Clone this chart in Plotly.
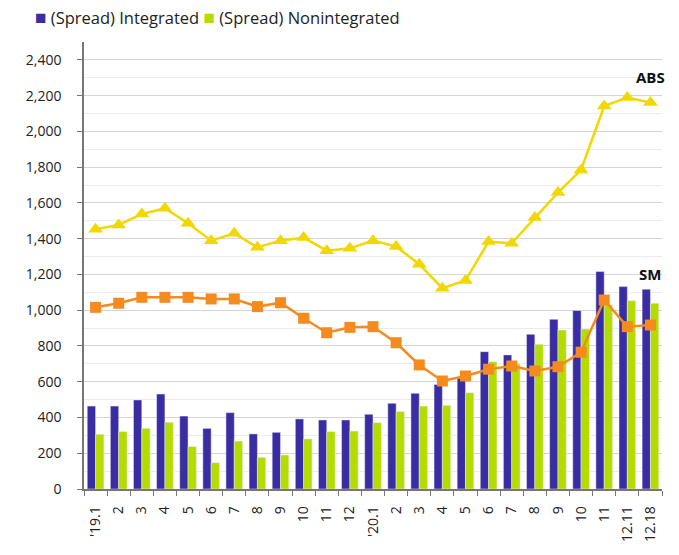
import plotly.graph_objects as go

months = ["'19.1", "2", "3", "4", "5", "6", "7", "8", "9", "10", "11", "12",
          "'20.1", "2", "3", "4", "5", "6", "7", "8", "9", "10", "11", "12.11", "12.18"]
# unique keys so repeated month labels stay separate categories
cats = [f"{i}_{m}" for i, m in enumerate(months)]

integrated = [464, 464, 498, 531, 408, 339, 427, 308, 317, 392, 386, 386,
              418, 479, 535, 585, 620, 768, 750, 865, 949, 998, 1216, 1132, 1117]
nonintegrated = [306, 321, 339, 373, 237, 147, 268, 177, 190, 280, 321, 324,
                 371, 433, 464, 468, 539, 712, 700, 809, 889, 895, 1030, 1053, 1039]
abs_line = [1453, 1477, 1538, 1570, 1486, 1389, 1430, 1352, 1389, 1406, 1333, 1346,
            1389, 1356, 1257, 1123, 1166, 1384, 1374, 1518, 1658, 1784, 2142, 2189, 2161]
sm_line = [1016, 1039, 1072, 1072, 1072, 1063, 1063, 1020, 1042, 955, 874, 904,
           908, 818, 694, 604, 632, 670, 688, 660, 684, 765, 1057, 908, 917]

BLUE = "#3a2ca3"
GREEN = "#b5dc00"

fig = go.Figure()
fig.add_trace(go.Bar(x=cats, y=integrated, name="(Spread) Integrated",
                     marker_color=BLUE))
fig.add_trace(go.Bar(x=cats, y=nonintegrated, name="(Spread) Nonintegrated",
                     marker_color=GREEN))
fig.add_trace(go.Scatter(x=cats, y=abs_line, mode="lines+markers", name="ABS",
                         line=dict(color="#f0d800", width=2.5),
                         marker=dict(symbol="triangle-up", size=13, color="#f0d800")))
fig.add_trace(go.Scatter(x=cats, y=sm_line, mode="lines+markers", name="SM",
                         line=dict(color="#f58a1f", width=2.5),
                         marker=dict(symbol="square", size=11, color="#f58a1f")))

fig.add_annotation(x=cats[-1], y=2305, text="<b>ABS</b>", showarrow=False,
                   font=dict(size=15, color="#111"))
fig.add_annotation(x=cats[-1], y=1203, text="<b>SM</b>", showarrow=False,
                   font=dict(size=15, color="#111"))

# compact legend drawn as text, placed like the original
fig.add_annotation(
    xref="paper", yref="paper", x=-0.089, y=1.056, xanchor="left", yanchor="middle",
    showarrow=False, font=dict(size=16.5, color="#222"),
    text=(f"<span style='color:{BLUE};font-size:19px'>■</span> (Spread) Integrated "
          f"<span style='color:{GREEN};font-size:19px'>■</span> (Spread) Nonintegrated"),
)

# page body adds an 8px offset, so the figure is sized 8px smaller
fig.update_layout(
    width=671, height=547,
    margin=dict(l=76, r=17, t=34, b=66),
    paper_bgcolor="white", plot_bgcolor="white",
    font=dict(family="Open Sans", size=14, color="#222"),
    barmode="group", bargap=0.28, bargroupgap=0,
    showlegend=False,
)
fig.update_xaxes(
    tickmode="array", tickvals=cats, ticktext=months, tickangle=-90,
    range=[-0.5, len(cats) - 0.5], automargin=False,
    tickson="boundaries", ticks="outside", ticklen=5, tickcolor="#777",
    showline=True, linecolor="#777", linewidth=1.5, showgrid=False,
    tickfont=dict(size=14), ticklabelstandoff=10,
)
fig.update_yaxes(
    range=[0, 2500], dtick=200, tickformat=",", ticks="outside", ticklen=5,
    tickcolor="#777", showline=True, linecolor="#777", linewidth=1.5,
    gridcolor="#d4d4d4", zeroline=False, automargin=False,
    minor=dict(dtick=100, showgrid=True, gridcolor="#ebebeb"),
    tickfont=dict(size=14), ticklabelstandoff=13,
)

fig.write_html("out.html")
